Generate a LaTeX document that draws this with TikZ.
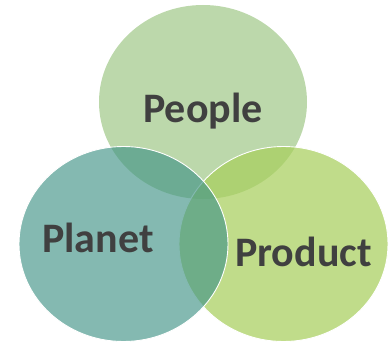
\documentclass[tikz,border=0pt]{standalone}
\usepackage{fontspec}
\setmainfont{Carlito}
\usepackage{tikz}
\definecolor{peoplegreen}{RGB}{188,216,171}
\definecolor{planetteal}{RGB}{66,148,135}
\definecolor{productlime}{RGB}{168,207,93}
\definecolor{labelgray}{RGB}{64,64,64}
\tikzstyle{set} = [draw=white, line width=0.9pt]
\tikzstyle{setlabel} = [text=labelgray, anchor=base, inner sep=0pt, font=\fontsize{42}{44}\selectfont\bfseries]

\begin{document}
\begin{tikzpicture}[x=1pt,y=-1pt]
\useasboundingbox (0,0) rectangle (390,342);
% the three sets
\fill[peoplegreen] (203,102) ellipse [x radius=104, y radius=97];
\path[set, fill=productlime, fill opacity=0.72] (283.5,244) ellipse [x radius=104.5, y radius=97.5];
\path[set, fill=planetteal, fill opacity=0.65] (123.5,244) ellipse [x radius=104.5, y radius=97.5];

\node[setlabel] (people) at (203,122) {People};
\node[setlabel] (planet) at (98,252) {Planet};
\node[setlabel] (product) at (303.5,266) {Product};
\end{tikzpicture}
\end{document}
